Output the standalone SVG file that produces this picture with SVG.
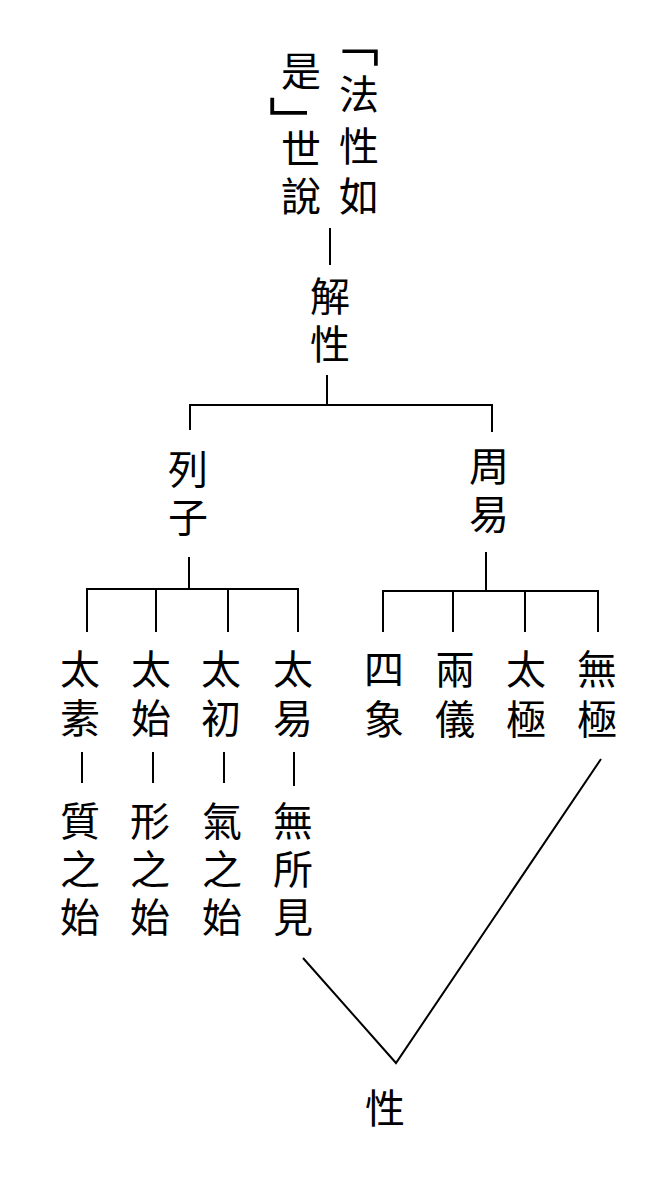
<svg xmlns="http://www.w3.org/2000/svg" width="661" height="1178" viewBox="0 0 661 1178">
<style>
text{font-family:"Noto Sans CJK TC","Noto Sans CJK SC",sans-serif;font-size:40px;fill:#000;text-anchor:middle}
.c line,.c polyline{stroke:#000;stroke-width:2;fill:none}
</style>
<rect width="661" height="1178" fill="#fff"/>
<g id="title">
<text x="354" y="61" style="font-size:50px">﹁</text>
<text x="359" y="109">法</text>
<text x="359" y="161">性</text>
<text x="359" y="211">如</text>
<text x="301" y="86">是</text>
<text x="295" y="142" style="font-size:52px">﹂</text>
<text x="301" y="164">世</text>
<text x="301" y="211">說</text>
</g>
<g id="jiexing">
<text x="330" y="311">解</text>
<text x="330" y="359">性</text>
</g>
<g id="liezi">
<text x="188" y="484">列</text>
<text x="188" y="532">子</text>
</g>
<g id="zhouyi">
<text x="489" y="481">周</text>
<text x="489" y="529">易</text>
</g>
<g id="taisu"><text x="80" y="684">太</text><text x="80" y="733">素</text></g>
<g id="taishi"><text x="151" y="684">太</text><text x="151" y="733">始</text></g>
<g id="taichu"><text x="221" y="684">太</text><text x="221" y="733">初</text></g>
<g id="taiyi"><text x="293" y="684">太</text><text x="293" y="733">易</text></g>
<g id="sixiang"><text x="384" y="684">四</text><text x="384" y="734">象</text></g>
<g id="liangyi"><text x="455" y="684">兩</text><text x="455" y="734">儀</text></g>
<g id="taiji"><text x="526" y="684">太</text><text x="526" y="734">極</text></g>
<g id="wuji"><text x="597" y="684">無</text><text x="597" y="734">極</text></g>
<g id="zhi"><text x="80" y="836">質</text><text x="80" y="884">之</text><text x="80" y="932">始</text></g>
<g id="xing2"><text x="150" y="836">形</text><text x="150" y="884">之</text><text x="150" y="932">始</text></g>
<g id="qi"><text x="222" y="836">氣</text><text x="222" y="884">之</text><text x="222" y="932">始</text></g>
<g id="wusuojian"><text x="293" y="836">無</text><text x="293" y="884">所</text><text x="293" y="932">見</text></g>
<g id="xing"><text x="385" y="1123">性</text></g>
<g class="c" id="connectors">
<line x1="330" y1="228" x2="330" y2="265"/>
<line x1="327" y1="375" x2="327" y2="405"/>
<polyline points="190,430 190,405 492,405 492,432"/>
<line x1="189" y1="557" x2="189" y2="589"/>
<polyline points="87,632 87,589 298,589 298,632"/>
<line x1="156" y1="589" x2="156" y2="632"/>
<line x1="228" y1="589" x2="228" y2="632"/>
<line x1="486" y1="552" x2="486" y2="591"/>
<polyline points="383,632 383,591 598,591 598,632"/>
<line x1="453" y1="591" x2="453" y2="632"/>
<line x1="525" y1="591" x2="525" y2="632"/>
<line x1="82" y1="752" x2="82" y2="783"/>
<line x1="153" y1="752" x2="153" y2="783"/>
<line x1="224" y1="752" x2="224" y2="783"/>
<line x1="294" y1="752" x2="294" y2="786"/>
<polyline points="303,958 396,1063 601,759"/>
</g>
</svg>
